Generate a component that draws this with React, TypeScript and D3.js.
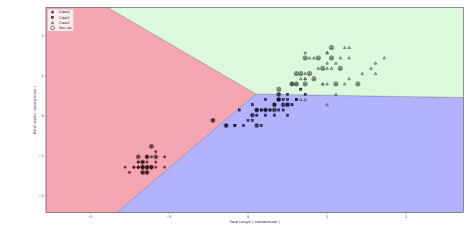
import React from "react";
import * as d3 from "d3";

// Iris petal measurements (cm), per class
const petalLength0 = [1.4,1.4,1.3,1.5,1.4,1.7,1.4,1.5,1.4,1.5,1.5,1.6,1.4,1.1,1.2,1.5,1.3,1.4,1.7,1.5,1.7,1.5,1.0,1.7,1.9,1.6,1.6,1.5,1.4,1.6,1.6,1.5,1.5,1.4,1.5,1.2,1.3,1.4,1.3,1.5,1.3,1.3,1.3,1.6,1.9,1.4,1.6,1.4,1.5,1.4];
const petalWidth0 = [0.2,0.2,0.2,0.2,0.2,0.4,0.3,0.2,0.2,0.1,0.2,0.2,0.1,0.1,0.2,0.4,0.4,0.3,0.3,0.3,0.2,0.4,0.2,0.5,0.2,0.2,0.4,0.2,0.2,0.2,0.2,0.4,0.1,0.2,0.2,0.2,0.2,0.1,0.2,0.2,0.3,0.3,0.2,0.6,0.4,0.3,0.2,0.2,0.2,0.2];
const petalLength1 = [4.7,4.5,4.9,4.0,4.6,4.5,4.7,3.3,4.6,3.9,3.5,4.2,4.0,4.7,3.6,4.4,4.5,4.1,4.5,3.9,4.8,4.0,4.9,4.7,4.3,4.4,4.8,5.0,4.5,3.5,3.8,3.7,3.9,5.1,4.5,4.5,4.7,4.4,4.1,4.0,4.4,4.6,4.0,3.3,4.2,4.2,4.2,4.3,3.0,4.1];
const petalWidth1 = [1.4,1.5,1.5,1.3,1.5,1.3,1.6,1.0,1.3,1.4,1.0,1.5,1.0,1.4,1.3,1.4,1.5,1.0,1.5,1.1,1.8,1.3,1.5,1.2,1.3,1.4,1.4,1.7,1.5,1.0,1.1,1.0,1.2,1.6,1.5,1.6,1.5,1.3,1.3,1.3,1.2,1.4,1.2,1.0,1.3,1.2,1.3,1.3,1.1,1.3];
const petalLength2 = [6.0,5.1,5.9,5.6,5.8,6.6,4.5,6.3,5.8,6.1,5.1,5.3,5.5,5.0,5.1,5.3,5.5,6.7,6.9,5.0,5.7,4.9,6.7,4.9,5.7,6.0,4.8,4.9,5.6,5.8,6.1,6.4,5.6,5.1,5.6,6.1,5.6,5.5,4.8,5.4,5.6,5.1,5.1,5.9,5.7,5.2,5.0,5.2,5.4,5.1];
const petalWidth2 = [2.5,1.9,2.1,1.8,2.2,2.1,1.7,1.8,1.8,2.5,2.0,1.9,2.1,2.0,2.4,2.3,1.8,2.2,2.3,1.5,2.3,2.0,2.0,1.8,2.1,1.8,1.8,1.8,2.1,1.6,1.9,2.0,2.2,1.5,1.4,2.3,2.4,1.8,1.8,2.1,2.4,2.3,1.9,2.3,2.5,2.3,1.9,2.0,2.3,1.8];

// Test set samples (cm)
const testPetalLength = [1.6,1.3,1.5,1.7,1.4,1.4,1.5,1.6,1.4,1.5, 3.0,3.3,4.0,4.0,4.2,4.4,4.5,4.7,4.4,4.6,3.9,4.5, 5.7,5.1,5.4,5.7,5.5,5.9,4.9,5.0,5.2,5.3,4.8,4.9,5.1,5.8,6.3,4.5];
const testPetalWidth = [0.6,0.4,0.4,0.4,0.3,0.2,0.2,0.2,0.1,0.1, 1.1,1.0,1.0,1.3,1.3,1.3,1.5,1.4,1.4,1.4,1.2,1.6, 2.5,2.3,2.3,2.3,2.1,2.1,2.0,2.0,2.0,1.9,1.8,1.8,1.8,1.8,1.8,1.7];

// Standard scaler (fitted on training set)
const scalerMean = [3.80, 1.184];
const scalerStd = [1.80, 0.769];

// Linear classifier (one score per class): w·x + b
const classWeights = [[-2.96, 1.76], [0, 0], [0.15, 4.46]];
const classBias = [-0.666, 0, -2.468];

const classLabels = ["Class0", "Class1", "Class2"];
const regionColors = ["#f6a6b0", "#b3b3fd", "#dcf9dc"];
const markerColors = ["#a0102a", "#1a1a8c", "#90ee90"];
const xTicks = [-2, -1, 0, 1, 2];
const yTicks = [-2, -1, 0, 1, 2];

const W = 474, H = 243;
const M = { left: 46, right: 463.3, top: 7.5, bottom: 212.5 };
const FONT = "DejaVu Sans, sans-serif";
const FS = 3.45;

const std = (v: number, i: number) => (v - scalerMean[i]) / scalerStd[i];

type P = [number, number];
function clip(poly: P[], a: number, b: number, c: number): P[] {
  const out: P[] = [];
  for (let i = 0; i < poly.length; i++) {
    const p = poly[i], q = poly[(i + 1) % poly.length];
    const fp = a * p[0] + b * p[1] + c, fq = a * q[0] + b * q[1] + c;
    if (fp >= 0) out.push(p);
    if ((fp >= 0) !== (fq >= 0)) {
      const t = fp / (fp - fq);
      out.push([p[0] + t * (q[0] - p[0]), p[1] + t * (q[1] - p[1])]);
    }
  }
  return out;
}

export default function App() {
  const classes = [
    { L: petalLength0, Wd: petalWidth0 },
    { L: petalLength1, Wd: petalWidth1 },
    { L: petalLength2, Wd: petalWidth2 },
  ].map((c) => c.L.map((l, i) => [std(l, 0), std(c.Wd[i], 1)] as P));
  const all = classes.flat();
  const xd = [d3.min(all, (d) => d[0])! - 1, d3.max(all, (d) => d[0])! + 1];
  const yd = [d3.min(all, (d) => d[1])! - 1, d3.max(all, (d) => d[1])! + 1];
  const x = d3.scaleLinear().domain(xd).range([M.left, M.right]);
  const y = d3.scaleLinear().domain(yd).range([M.bottom, M.top]);

  const rect: P[] = [[xd[0], yd[0]], [xd[1], yd[0]], [xd[1], yd[1]], [xd[0], yd[1]]];
  const regions = classWeights.map((wk, k) => {
    let poly = rect;
    classWeights.forEach((wj, j) => {
      if (j === k) return;
      poly = clip(poly, wk[0] - wj[0], wk[1] - wj[1], classBias[k] - classBias[j]);
    });
    return poly;
  });
  const line = d3.line<P>().x((d) => x(d[0])).y((d) => y(d[1]));

  const tests = testPetalLength.map((l, i) => [std(l, 0), std(testPetalWidth[i], 1)] as P);

  const marker = (k: number, cx: number, cy: number, key: string | number) => {
    if (k === 0)
      return <circle key={key} cx={cx} cy={cy} r={1.1} fill={markerColors[0]} fillOpacity={0.8} stroke="#000" strokeWidth={0.45} />;
    if (k === 1)
      return <rect key={key} x={cx - 1.05} y={cy - 1.05} width={2.1} height={2.1} fill={markerColors[1]} fillOpacity={0.8} stroke="#000" strokeWidth={0.45} />;
    const s = 1.3;
    return <path key={key} d={`M${cx},${cy - s}L${cx + s},${cy + s * 0.8}L${cx - s},${cy + s * 0.8}Z`} fill={markerColors[2]} fillOpacity={0.8} stroke="#000" strokeWidth={0.4} />;
  };

  const legendRows = [...classLabels, "Test set"];
  const lgX = 47.7, lgY = 9.2, lgW = 25.6, lgH = 21.8, rowH = 5.2;

  return (
    <svg width={W} height={H} style={{ position: "absolute", left: 0, top: 0, background: "#fff" }} fontFamily={FONT}>
      <rect width={W} height={H} fill="#fff" />
      {regions.map((poly, k) => (
        <path key={k} d={line(poly)! + "Z"} fill={regionColors[k]} stroke="rgba(90,70,110,0.45)" strokeWidth={0.6} />
      ))}
      {classes.map((pts, k) => pts.map((p, i) => marker(k, x(p[0]), y(p[1]), `${k}-${i}`)))}
      {tests.map((p, i) => (
        <circle key={`t${i}`} cx={x(p[0])} cy={y(p[1])} r={2.15} fill="rgba(0,0,0,0.12)" stroke="#2a2a2a" strokeWidth={0.55} />
      ))}
      <rect x={M.left} y={M.top} width={M.right - M.left} height={M.bottom - M.top} fill="none" stroke="#444" strokeWidth={0.45} />
      {xTicks.map((t) => (
        <g key={`xt${t}`}>
          <line x1={x(t)} x2={x(t)} y1={M.bottom} y2={M.bottom + 1.2} stroke="#333" strokeWidth={0.4} />
          <text x={x(t)} y={M.bottom + 5.2} fontSize={FS} textAnchor="middle" fill="#222">{t < 0 ? `\u2212${-t}` : t}</text>
        </g>
      ))}
      {yTicks.map((t) => (
        <g key={`yt${t}`}>
          <line x1={M.left - 1.2} x2={M.left} y1={y(t)} y2={y(t)} stroke="#333" strokeWidth={0.4} />
          <text x={M.left - 2.4} y={y(t)} dy="0.35em" fontSize={FS} textAnchor="end" fill="#222">{t < 0 ? `\u2212${-t}` : t}</text>
        </g>
      ))}
      <text x={(M.left + M.right) / 2} y={223.3} fontSize={FS} textAnchor="middle" fill="#222">Petal Length [ standardized ]</text>
      <text transform={`translate(36.3,${(M.top + M.bottom) / 2}) rotate(-90)`} fontSize={FS} textAnchor="middle" fill="#222">Petal width [ standardized ]</text>
      <rect x={lgX} y={lgY} width={lgW} height={lgH} rx={1} fill="rgba(255,255,255,0.8)" stroke="#ccc" strokeWidth={0.4} />
      {legendRows.map((lab, i) => {
        const cy = lgY + 3.0 + i * rowH;
        const cx = lgX + 4.8;
        return (
          <g key={lab}>
            {i < 3 ? marker(i, cx, cy, `lg${i}`) : <circle cx={cx} cy={cy} r={1.9} fill="none" stroke="#111" strokeWidth={0.5} />}
            <text x={lgX + 11.1} y={cy} dy="0.35em" fontSize={FS} fill="#222">{lab}</text>
          </g>
        );
      })}
    </svg>
  );
}
